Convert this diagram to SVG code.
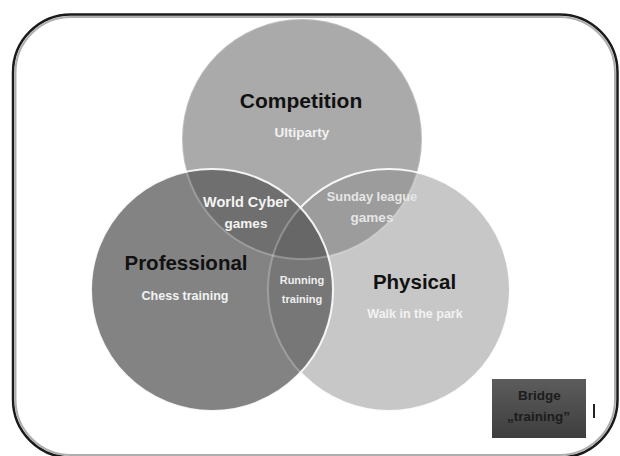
<svg xmlns="http://www.w3.org/2000/svg" width="620" height="456" viewBox="0 0 620 456">
<style>
.t{font-family:"Liberation Sans",Arial,sans-serif;font-weight:bold;text-anchor:middle}
.big{font-size:20.5px;fill:#111}
.sm{font-size:12.5px;fill:#f2f2f2}
.ov{font-size:13.5px;fill:#f4f4f4}
.tiny{font-size:11px;fill:#eeeeee}
.br{font-size:13.5px;fill:#1c1c1c}
</style>
<defs>
<clipPath id="cComp"><circle cx="302" cy="139" r="120"/></clipPath>
<clipPath id="cProf"><circle cx="212" cy="290" r="121"/></clipPath>
<clipPath id="cPhys"><circle cx="389" cy="290" r="121"/></clipPath>
<mask id="mOutProf"><rect x="0" y="0" width="620" height="456" fill="#fff"/><circle cx="212" cy="290" r="121" fill="#000"/></mask>
<linearGradient id="gBox" x1="0" y1="0" x2="0" y2="1"><stop offset="0" stop-color="#5c5c5c"/><stop offset="1" stop-color="#3e3e3e"/></linearGradient>
</defs>
<rect width="620" height="456" fill="#fff"/>
<g id="frame">
<rect x="13" y="14.5" width="604.5" height="443" rx="58" fill="none" stroke="#1a1a1a" stroke-width="2.5"/>
<rect x="15.5" y="17" width="599.5" height="438" rx="55.5" fill="none" stroke="#8c8c8c" stroke-width="2" opacity="0.7"/>
</g>
<g id="venn-fills">
<circle cx="302" cy="139" r="120" fill="#aaaaaa"/>
<circle cx="389" cy="290" r="121" fill="#c7c7c7"/>
<circle cx="212" cy="290" r="121" fill="#838383"/>
<circle cx="389" cy="290" r="121" fill="#9c9c9c" clip-path="url(#cComp)"/>
<circle cx="212" cy="290" r="121" fill="#6f6f6f" clip-path="url(#cComp)"/>
<circle cx="212" cy="290" r="121" fill="#777777" clip-path="url(#cPhys)"/>
<g clip-path="url(#cPhys)"><circle cx="212" cy="290" r="121" fill="#676767" clip-path="url(#cComp)"/></g>
</g>
<g id="venn-edges" fill="none" stroke="#ffffff" stroke-width="2">
<circle cx="302" cy="139" r="120" stroke-opacity="0.25"/>
<circle cx="389" cy="290" r="121" stroke-opacity="0.9" mask="url(#mOutProf)"/>
<circle cx="389" cy="290" r="121" stroke-opacity="0.25" clip-path="url(#cProf)"/>
<circle cx="212" cy="290" r="121" stroke-opacity="0.9"/>
</g>
<g id="competition">
<text class="t big" x="301" y="108" style="font-size:21px">Competition</text>
<text class="t sm" x="302" y="137" style="font-size:13.5px">Ultiparty</text>
</g>
<g id="professional">
<text class="t big" x="186" y="270">Professional</text>
<text class="t sm" x="185" y="300">Chess training</text>
</g>
<g id="physical">
<text class="t big" x="414.5" y="289">Physical</text>
<text class="t sm" x="415" y="318">Walk in the park</text>
</g>
<g id="world-cyber">
<text class="t ov" x="246" y="207" style="font-size:14.5px">World Cyber</text>
<text class="t ov" x="246" y="228">games</text>
</g>
<g id="sunday-league">
<text class="t ov" x="372" y="201" style="fill:#e6e6e6;font-size:12.8px">Sunday league</text>
<text class="t ov" x="372" y="222" style="fill:#e6e6e6">games</text>
</g>
<g id="running">
<text class="t tiny" x="302" y="284">Running</text>
<text class="t tiny" x="302" y="303">training</text>
</g>
<g id="bridge">
<rect x="492" y="379" width="94" height="59" fill="url(#gBox)"/>
<text class="t br" x="539.5" y="400">Bridge</text>
<text class="t br" x="538.5" y="421">„training”</text>
<rect x="593" y="404" width="2" height="14" fill="#222"/>
</g>
</svg>
